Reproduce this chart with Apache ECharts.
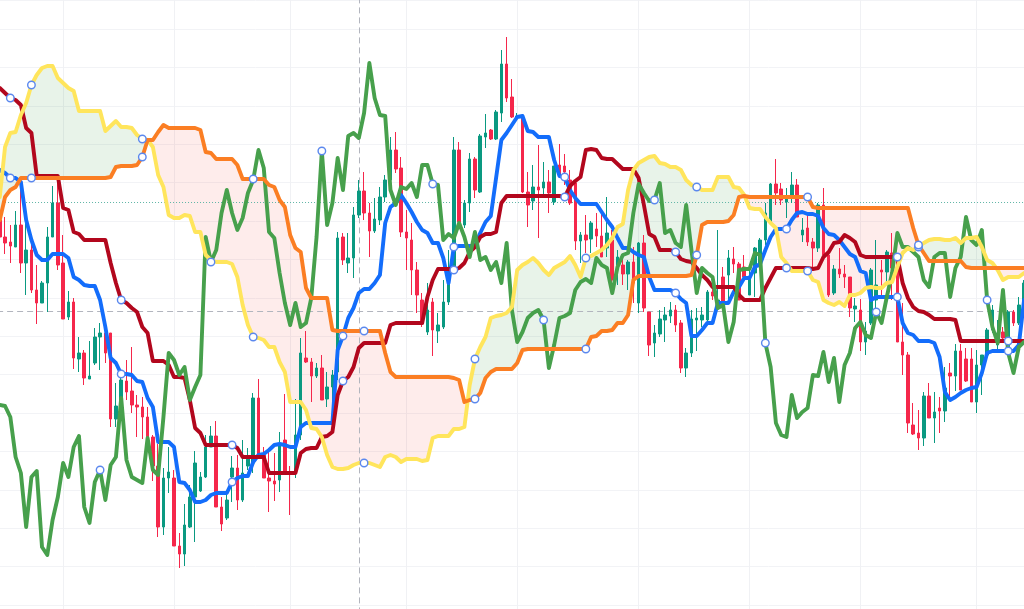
<!DOCTYPE html>
<html>
<head>
<meta charset="utf-8">
<title>Ichimoku</title>
<script src="https://cdn.jsdelivr.net/npm/echarts@6/dist/echarts.min.js"></script>
<style>
  html, body { margin: 0; padding: 0; background: #fff; }
  #chart { width: 1024px; height: 609px; }
</style>
</head>
<body>
<div id="chart"></div>
<script>
// open, close, low, high
const ohlc = [
  [385,368,360,400],[368,362,351,388],[363,359,342,380],[358,380,358,394],[380,342,332,422],
  [342,355,310,388],[355,315,312,365],[315,302,281,340],[302,322,302,324],[322,368,293,378],
  [368,402,368,419],[402,340,335,422],[342,286,286,370],[288,303,285,314],[303,247,236,307],
  [246,252,233,268],[252,227,220,255],[226,229,226,264],[242,268,240,277],[268,272,235,282],
  [272,252,242,280],[272,186,178,272],[186,199,178,222],[199,225,195,230],[224,213,205,245],
  [214,200,192,258],[200,198,168,210],[198,188,166,208],[188,166,162,198],[168,139,124,170],
  [139,78,68,161],[78,127,70,137],[127,133,112,158],[127,59,59,135],[59,51,37,72],
  [51,80,39,101],[78,108,77,120],[108,142,63,154],[114,128,113,133],[128,158,127,170],
  [158,169,158,179],[169,98,98,184],[98,81,74,108],[87,105,85,115],[128,137,103,149],
  [137,105,95,150],[105,132,103,165],[139,147,135,157],[142,207,132,212],[207,148,148,226],
  [150,127,127,158],[127,124,93,153],[124,121,104,152],[125,160,113,173],[165,131,131,211],
  [133,131,90,139],[132,170,127,206],[170,252,165,267],[247,243,242,274],[243,229,203,247],
  [229,237,227,242],[237,205,205,250],[206,218,198,233],[218,230,198,235],[233,367,225,373],
  [368,345,340,372],[342,347,332,372],[347,390,327,398],[390,414,387,425],[414,392,385,433],
  [392,374,348,402],[374,386,372,407],[385,408,380,418],[408,425,403,430],[425,455,422,468],
  [455,436,432,473],[437,373,368,448],[373,367,335,395],[365,335,310,382],[335,310,292,343],
  [305,283,278,312],[273,295,270,322],[303,275,249,307],[274,280,262,292],[278,303,276,325],
  [303,337,300,355],[337,455,335,468],[455,383,378,463],[380,402,377,405],[402,446,393,452],
  [446,415,407,448],[413,469,412,471],[468,472,457,491],[475,466,465,476],[466,493,465,495],
  [492,541,483,555],[541,507,503,568],[508,488,487,526],[488,489,485,492],[487,413,412,489],
  [413,400,378,433],[404,418,395,440],[418,415,367,460],[417,423,407,443],[423,412,392,435],
  [403,439,400,439],[440,428,428,461],[439,433,420,451],[425,402,400,435],[422,364,355,422],
  [364,370,342,373],[370,365,352,390],[366,382,352,384],[376,369,358,392],[369,348,348,392],
  [357,372,348,408],[365,325,323,375],[340,348,320,355],[340,331,320,347],[331,343,315,345],
  [343,322,302,358],[302,362,292,363],[362,297,293,370],[293,260,249,293],[262,272,248,280],
  [271,286,268,295],[285,290,263,298],[289,295,282,303],[295,280,273,300],[282,237,232,285],
  [237,252,228,257],[252,286,248,295],[285,287,254,297],[285,290,278,298],[285,313,284,315],
  [313,309,305,317],[300,305,300,375],[328,302,302,338],[330,347,302,355],[346,341,332,358],
  [341,305,305,343],[338,328,328,350],[310,328,310,337],[332,357,308,358],[338,365,336,367],
  [365,392,360,402],[382,421,380,422],[421,412,400,446],[416,405,400,422],[403,408,387,417],
  [410,420,402,433],[420,388,388,426],[370,375,363,387],[377,363,359,390],[363,357,337,367],
  [357,400,353,402],[400,350,350,417],[350,310,308,351],[312,336,310,340],[336,331,327,357],
  [331,328,317,340],[328,297,288,328],[296,299,283,307],[295,263,254,306],[263,274,250,283],
  [282,335,280,337],[305,320,295,365],[335,333,307,345],[333,353,322,355],[352,337,305,372],
  [343,263,263,352],[263,250,230,302],[250,182,172,253],[180,171,170,202],[172,167,155,195],
  [167,209,159,213],[209,187,187,222],[187,193,162,213],[197,194,172,208],[194,217,183,238],
  [232,229,205,242],[229,254,214,261],[254,215,215,261],[246,224,223,257],[246,203,203,257],
  [203,240,192,255],[240,250,210,250],[250,275,248,277],[275,295,272,300],[260,272,255,285],
  [273,267,263,278],[255,293,253,295],[293,282,279,295],[282,300,280,308],[300,322,295,325]
];

const tenkan = [
  435,432,427,427,423,385,365,350,345,345,
  351,351,351,347,328,325,320,319,319,305,
  278,247,242,231,231,230,224,223,207,198,
  163,163,163,158,123,122,115,103,103,105,
  110,112,112,112,123,127,129,129,143,150,
  151,155,160,161,160,158,158,178,182,182,
  182,182,182,182,255,269,287,297,312,316,
  316,322,330,382,398,402,410,402,393,383,
  375,372,362,362,347,322,358,359,359,359,
  359,372,383,389,427,465,472,480,488,489,
  474,473,468,468,468,445,429,428,415,407,
  401,401,401,401,393,385,378,367,357,357,
  353,350,348,328,315,315,315,315,312,306,
  302,269,269,275,282,282,302,302,302,313,
  318,327,327,338,341,355,368,376,376,376,
  385,392,393,391,391,389,377,371,370,365,
  358,351,348,334,332,305,308,308,308,308,
  308,282,272,270,264,264,264,262,248,213,
  205,208,212,215,217,218,232,252,254,254,
  254,254,254,260,305
];

const kijun = [
  517,512,507,505,500,477,472,429,429,429,
  429,429,397,395,373,371,365,365,365,365,
  365,342,322,305,302,297,293,278,272,244,
  244,244,240,228,228,227,205,177,172,160,
  160,160,160,160,160,157,148,148,148,148,
  148,132,132,132,132,132,132,152,156,157,
  157,168,169,173,210,224,228,238,257,262,
  262,262,262,262,280,282,282,282,282,282,
  282,308,325,336,336,336,335,337,342,353,
  358,368,371,371,373,402,409,409,409,409,
  409,409,409,409,409,409,409,408,419,424,
  428,455,456,455,447,446,446,441,436,436,
  436,427,400,371,368,355,355,355,353,346,
  344,343,337,330,325,318,318,318,318,318,
  310,305,305,305,305,317,327,337,337,337,
  337,337,337,337,336,337,348,353,362,363,
  370,367,363,350,348,348,348,348,348,348,
  348,322,307,298,294,293,290,286,286,286,
  286,285,264,264,264,264,264,264,264,264,
  264,264,264,264,264
];

const chikou = [
  200,199,188,148,132,78,128,134,58,50,
  85,108,142,128,158,169,98,82,123,135,
  105,140,148,207,145,128,125,122,167,135,
  130,188,252,245,230,238,205,218,230,368,
  343,355,392,415,392,375,387,412,425,455,
  437,373,367,332,302,280,302,278,282,307,
  368,454,380,402,447,415,469,472,467,492,
  542,507,490,489,415,400,418,416,422,408,
  440,440,421,420,365,371,367,382,368,348,
  373,345,348,335,343,322,362,295,263,273,
  287,292,295,285,237,260,287,289,292,315,
  323,326,322,347,340,337,312,338,350,352,
  392,421,412,404,405,422,372,375,362,358,
  400,355,312,337,332,328,297,300,263,283,
  335,336,336,352,350,262,238,182,170,168,
  210,187,193,197,230,229,253,223,247,203,
  240,252,277,283,270,267,293,282,308,332,
  372,358,358,353,348,325,318,348,352,352,
  308,337,348,388,365,360,375,305,278,262,
  315,252,232,258,263
];

const senkouA = [
  408,458,472,473,490,502,520,530,537,539,
  539,527,522,517,514,494,494,494,494,494,
  474,479,484,478,478,477,470,466,465,458,
  430,418,390,387,387,390,389,373,373,350,
  345,343,343,343,341,328,300,280,268,267,
  265,258,258,243,233,203,203,203,195,177,
  176,168,150,138,136,136,137,140,142,142,
  142,140,138,148,150,148,143,146,146,146,
  144,145,167,169,169,169,176,176,178,220,
  246,258,268,287,289,290,292,298,335,340,
  343,347,342,335,330,337,340,343,349,340,
  328,347,349,352,355,360,367,378,381,415,
  435,442,445,448,449,442,441,438,438,435,
  425,420,418,415,415,415,428,428,428,418,
  417,410,397,396,396,388,382,377,348,342,
  334,334,334,334,325,323,305,302,300,303,
  299,310,310,312,317,318,317,317,322,323,
  338,352,357,355,358,362,365,366,366,365,
  365,367,362,367,367,368,358,345,342,335,
  325,328,328,328,332
];

const senkouB = [
  385,408,415,418,427,427,427,427,427,427,
  427,427,427,427,427,427,427,427,427,427,
  427,428,438,439,439,439,440,448,465,465,
  473,480,477,477,477,477,477,477,475,453,
  452,446,446,446,446,440,426,426,426,426,
  426,420,418,405,398,370,357,353,317,307,
  307,307,307,275,274,274,274,274,274,274,
  274,274,274,252,233,228,228,228,228,228,
  228,228,228,228,228,228,227,225,203,205,
  206,212,227,233,236,236,236,236,242,255,
  256,256,256,256,256,256,256,256,256,256,
  256,256,268,269,274,274,275,282,282,290,
  325,329,329,329,329,329,329,329,329,329,
  329,330,350,380,383,383,383,383,384,390,
  408,409,408,408,408,408,408,408,408,408,
  408,408,408,408,398,397,397,397,397,397,
  397,397,397,397,397,397,397,397,397,397,
  397,397,397,377,360,352,344,344,344,344,
  344,344,344,338,337,337,337,337,337,337,
  337,337,337,337,337
];

const tenkanKijunMarks = [2,23,44,65,86,107,128,149,170,191];
const senkouMarks = [6,27,48,69,90,111,132,153,174];
const chikouMarks = [19,40,61,82,103,124,145,166,187];
const timeGrid = [12,33,55,77,98,121,142,163,185];
const crossIndex = 68;
const crossPrice = 294;
const lastPrice = 403;

const categories = ohlc.map((d, i) => String(i));

// split the cloud where A and B change sides, so each run gets one colour
function cloudRuns() {
  const runs = [];
  let from = 0;
  let last = 0;
  let lastDiff = senkouA[0] - senkouB[0];
  for (let i = 1; i < senkouA.length; i++) {
    const diff = senkouA[i] - senkouB[i];
    if (diff === 0) continue;
    if (lastDiff * diff < 0) {
      const cross = last + (i - last) * lastDiff / (lastDiff - diff);
      runs.push({ from: from, to: cross, green: lastDiff > 0 });
      from = cross;
    }
    last = i;
    lastDiff = diff;
  }
  runs.push({ from: from, to: senkouA.length - 1, green: lastDiff > 0 });
  return runs;
}
const runs = cloudRuns();

function coordAt(api, values, pos) {
  const i = Math.floor(pos);
  const t = pos - i;
  const p = api.coord([i, values[i]]);
  if (t === 0) return p;
  const q = api.coord([i + 1, values[i + 1]]);
  return [p[0] + (q[0] - p[0]) * t, p[1] + (q[1] - p[1]) * t];
}

function renderCloud(params, api) {
  const run = runs[params.dataIndex];
  const stops = [run.from];
  for (let i = Math.floor(run.from) + 1; i < run.to; i++) stops.push(i);
  stops.push(run.to);
  const top = stops.map(p => coordAt(api, senkouA, p));
  const bottom = stops.map(p => coordAt(api, senkouB, p)).reverse();
  return {
    type: 'polygon',
    shape: { points: top.concat(bottom) },
    style: { fill: run.green ? 'rgba(67,160,71,0.12)' : 'rgba(244,67,54,0.10)' }
  };
}

function lineSeries(name, data, color, z) {
  return {
    name: name,
    type: 'line',
    data: data,
    z: z,
    symbol: 'none',
    silent: true,
    lineStyle: { color: color, width: 3.9, cap: 'round', join: 'round' }
  };
}

const markPoints = [];
tenkanKijunMarks.forEach(i => {
  markPoints.push([i, tenkan[i]]);
  markPoints.push([i, kijun[i]]);
});
senkouMarks.forEach(i => {
  markPoints.push([i, senkouA[i]]);
  markPoints.push([i, senkouB[i]]);
});
chikouMarks.forEach(i => markPoints.push([i, chikou[i]]));

const myChart = echarts.init(document.getElementById('chart'));
myChart.setOption({
  animation: false,
  backgroundColor: '#ffffff',
  grid: { left: -2.88, right: -2.72, top: 0, bottom: -34.4, outerBoundsMode: 'none' },
  xAxis: {
    type: 'category',
    data: categories,
    axisLine: { show: false },
    axisTick: { show: false },
    axisLabel: { show: false },
    splitLine: { show: false }
  },
  yAxis: {
    type: 'value',
    min: -38.4,
    max: 605,
    interval: 38.4,
    axisLine: { show: false },
    axisTick: { show: false },
    axisLabel: { show: false },
    splitLine: { show: true, lineStyle: { color: '#f2f3f6', width: 1 } }
  },
  series: [
    {
      name: 'guides',
      type: 'line',
      data: [],
      z: 1,
      silent: true,
      markLine: {
        z: 1,
        silent: true,
        animation: false,
        symbol: 'none',
        label: { show: false },
        lineStyle: { color: '#f0f1f4', width: 1, type: 'solid' },
        data: timeGrid.map(i => ({ xAxis: String(i) }))
      }
    },
    {
      name: 'cloud',
      type: 'custom',
      renderItem: renderCloud,
      data: runs.map((r, k) => k),
      z: 2,
      silent: true
    },
    {
      name: 'price',
      type: 'candlestick',
      data: ohlc,
      z: 3,
      barWidth: 3,
      silent: true,
      itemStyle: {
        color: '#0a9981',
        color0: '#f5274b',
        borderColor: '#0a9981',
        borderColor0: '#f5274b',
        borderWidth: 1
      },
      markLine: {
        z: 3,
        silent: true,
        animation: false,
        symbol: 'none',
        label: { show: false },
        data: [
          { xAxis: String(crossIndex), lineStyle: { color: '#b2b5be', width: 1, type: [6, 4] } },
          { yAxis: crossPrice, lineStyle: { color: '#b2b5be', width: 1, type: [6, 4] } },
          [
            { coord: ['1', lastPrice], lineStyle: { color: '#5fb5a6', width: 1, type: [1, 2] } },
            { coord: ['194', lastPrice] }
          ]
        ]
      }
    },
    lineSeries('tenkan', tenkan, '#136dfb', 4),
    lineSeries('kijun', kijun, '#b2071d', 5),
    lineSeries('chikou', chikou, '#47a04c', 6),
    lineSeries('senkouA', senkouA, '#ffe55c', 7),
    lineSeries('senkouB', senkouB, '#fb7e23', 8),
    {
      name: 'marks',
      type: 'scatter',
      data: markPoints,
      z: 9,
      silent: true,
      symbol: 'circle',
      symbolSize: 7.5,
      itemStyle: { color: '#ffffff', borderColor: '#5b88ee', borderWidth: 1.4, opacity: 1 }
    }
  ]
});
</script>
</body>
</html>
